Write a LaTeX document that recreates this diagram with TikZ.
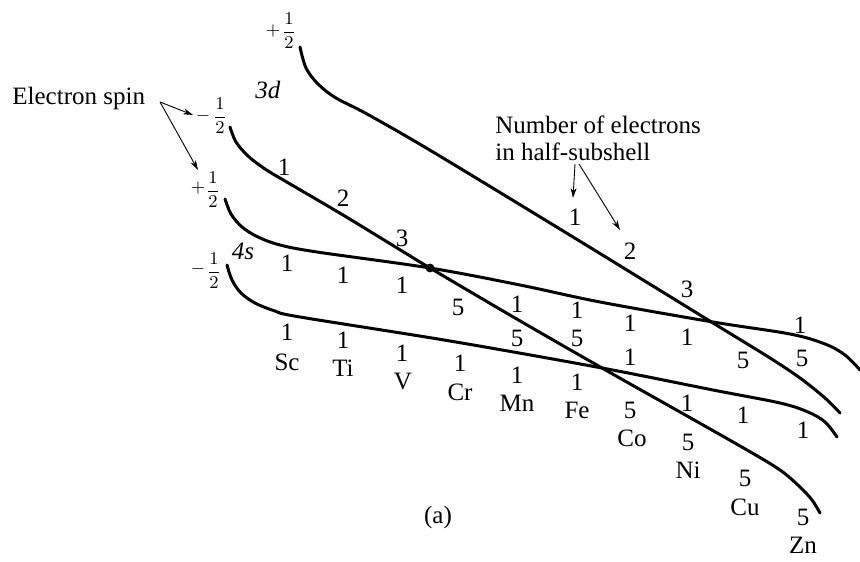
\documentclass[tikz,border=0pt]{standalone}
\usepackage{fontspec}
\setmainfont{Liberation Serif}
\usetikzlibrary{arrows.meta}
\begin{document}
\begin{tikzpicture}[x=0.5pt,y=-0.5pt,
  curve/.style={line width=1.5pt, line cap=round, line join=round},
  lbl/.style={font=\fontsize{12.5}{14}\selectfont, inner sep=0pt},
  sgn/.style={font=\fontsize{9}{10}\selectfont, inner sep=0pt},
  frc/.style={font=\fontsize{9}{10}\selectfont, inner sep=0pt},
  ptr/.style={line width=0.45pt, -{Stealth[length=5pt,width=3pt]}},
  ]
\useasboundingbox (0,0) rectangle (860,561);

% curves
% 3d +1/2
\draw[curve] plot[smooth, tension=0.55] coordinates {(300,47) (306,68) (318,84) (336,98) (367,114) (433,152) (573,237) (713,323) (770,358) (800,378) (825,398) (840,413)};
% 3d -1/2
\draw[curve] plot[smooth, tension=0.55] coordinates {(230,127) (236,142) (248,156) (265,169) (285,181) (343,215) (402,251) (430,268) (515,318) (602,368) (680,412) (747,450) (780,470) (800,487) (812,500) (820,513)};
% 4s +1/2
\draw[curve] plot[smooth, tension=0.55] coordinates {(225,199) (231,214) (242,227) (258,237) (280,245) (317,252) (430,268) (520,285) (600,302) (713,322) (790,334) (825,344) (845,355) (860,370)};
% 4s -1/2
\draw[curve] plot[smooth, tension=0.55] coordinates {(227,265) (232,280) (241,293) (255,303) (275,311) (300,317) (450,341) (602,368) (713,390) (780,403) (808,412) (825,422) (837,437)};

\fill (430,268) circle[radius=2.2pt];

% spin labels
\node[sgn] (sA) at (273,31) {$+$};
\node[frc] (fA) at (289,31) {$\displaystyle\frac{1}{2}$};
\node[sgn] (sB) at (203,116) {$-$};
\node[frc] (fB) at (220,116) {$\displaystyle\frac{1}{2}$};
\node[sgn] (sC) at (198,188) {$+$};
\node[frc] (fC) at (213,190) {$\displaystyle\frac{1}{2}$};
\node[sgn] (sD) at (198,269) {$-$};
\node[frc] (fD) at (214,271) {$\displaystyle\frac{1}{2}$};
\node[lbl] (t3d) at (268,90) {\textit{3d}};
\node[lbl] (t4s) at (243,251) {\textit{4s}};

% Electron spin
\node[lbl, anchor=west] (es) at (12,98) {Electron spin};
\coordinate (esJ) at (160,102);
\coordinate (esT1) at (193,115);
\coordinate (esT2) at (198,170);
\draw[ptr] (esJ) -- (esT1);
\draw[ptr] (esJ) -- (esT2);

% Number of electrons
\node[lbl, anchor=west] (ne1) at (495,125) {Number of electrons};
\node[lbl, anchor=west] (ne2) at (495,152) {in half-subshell};
\coordinate (neJ1) at (575,164);
\coordinate (neJ2) at (579,164);
\coordinate (neT1) at (573,198);
\coordinate (neT2) at (620,230);
\draw[ptr] (neJ1) -- (neT1);
\draw[ptr] (neJ2) -- (neT2);

% 3d +1/2 numbers
\node[lbl] (a1) at (575,217) {1};
\node[lbl] (a2) at (630,251) {2};
\node[lbl] (a3) at (687,289) {3};
\node[lbl] (a4) at (743,360) {5};
\node[lbl] (a5) at (802,358) {5};
% 3d -1/2 numbers
\node[lbl] (b1) at (284,167) {1};
\node[lbl] (b2) at (343,198) {2};
\node[lbl] (b3) at (402,238) {3};
\node[lbl] (b4) at (458,307) {5};
\node[lbl] (b5) at (517,338) {5};
\node[lbl] (b6) at (577,338) {5};
\node[lbl] (b7) at (630,410) {5};
\node[lbl] (b8) at (688,442) {5};
\node[lbl] (b9) at (745,478) {5};
\node[lbl] (b10) at (803,517) {5};
% 4s +1/2 numbers
\node[lbl] (c1) at (287,263) {1};
\node[lbl] (c2) at (343,275) {1};
\node[lbl] (c3) at (402,285) {1};
\node[lbl] (c4) at (517,304) {1};
\node[lbl] (c5) at (577,310) {1};
\node[lbl] (c6) at (630,323) {1};
\node[lbl] (c7) at (687,337) {1};
\node[lbl] (c8) at (800,325) {1};
% 4s -1/2 numbers
\node[lbl] (d1) at (287,332) {1};
\node[lbl] (d2) at (343,340) {1};
\node[lbl] (d3) at (402,353) {1};
\node[lbl] (d4) at (460,363) {1};
\node[lbl] (d5) at (517,375) {1};
\node[lbl] (d6) at (577,382) {1};
\node[lbl] (d7) at (630,357) {1};
\node[lbl] (d8) at (687,403) {1};
\node[lbl] (d9) at (743,415) {1};
\node[lbl] (d10) at (803,430) {1};
% elements
\node[lbl] (eSc) at (287,362) {Sc};
\node[lbl] (eTi) at (343,368) {Ti};
\node[lbl] (eV) at (403,381) {V};
\node[lbl] (eCr) at (460,392) {Cr};
\node[lbl] (eMn) at (517,403) {Mn};
\node[lbl] (eFe) at (577,410) {Fe};
\node[lbl] (eCo) at (632,438) {Co};
\node[lbl] (eNi) at (688,470) {Ni};
\node[lbl] (eCu) at (745,507) {Cu};
\node[lbl] (eZn) at (803,545) {Zn};

\node[lbl] (cap) at (438,517) {(a)};
\end{tikzpicture}
\end{document}
